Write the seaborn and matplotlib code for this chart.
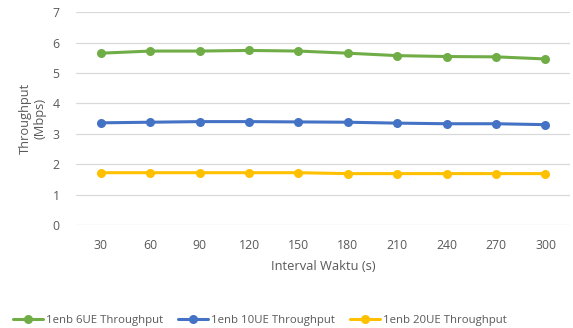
import matplotlib
matplotlib.use("Agg")
import matplotlib.pyplot as plt
import seaborn as sns
import pandas as pd

# data
intervals = ["30", "60", "90", "120", "150", "180", "210", "240", "270", "300"]
ue6 = [5.65, 5.72, 5.72, 5.74, 5.72, 5.65, 5.57, 5.54, 5.53, 5.46]
ue10 = [3.36, 3.38, 3.40, 3.40, 3.39, 3.38, 3.35, 3.33, 3.33, 3.30]
ue20 = [1.72, 1.72, 1.72, 1.72, 1.72, 1.69, 1.69, 1.69, 1.69, 1.69]
series = ["1enb 6UE Throughput", "1enb 10UE Throughput", "1enb 20UE Throughput"]
colors = ["#70ad47", "#4472c4", "#ffc000"]

df = pd.DataFrame({
    "Interval": intervals * 3,
    "Throughput": ue6 + ue10 + ue20,
    "Series": [s for s in series for _ in intervals],
})

sns.set_style("white")
plt.rcParams["font.family"] = ["Open Sans", "DejaVu Sans"]
grey = "#595959"

fig = plt.figure(figsize=(5.73, 3.28), dpi=100)
ax = fig.add_axes([0.133, 0.314, 0.862, 0.649])

sns.lineplot(data=df, x="Interval", y="Throughput", hue="Series",
             palette=colors, marker="o", markersize=6.5, markeredgewidth=0,
             linewidth=2.2, sort=False, ax=ax)

ax.set_ylim(0, 7)
ax.set_xlim(-0.5, len(intervals) - 0.5)
ax.set_yticks(range(0, 8))
ax.grid(axis="y", color="#d9d9d9", linewidth=0.9)
ax.set_axisbelow(True)
for s in ax.spines.values():
    s.set_visible(False)
ax.tick_params(axis="both", length=0, colors=grey, labelsize=8.8, pad=10)
ax.tick_params(axis="y", pad=12)
ax.set_xlabel("Interval Waktu (s)", color=grey, fontsize=9.3, labelpad=6)
ax.set_ylabel("Throughput\n(Mbps)", color=grey, fontsize=9.3, labelpad=4)

handles, labels = ax.get_legend_handles_labels()
ax.legend(handles, labels, loc="center", bbox_to_anchor=(0.372, -0.45),
          ncol=3, frameon=False, fontsize=8.2, labelcolor=grey,
          handlelength=2.6, handletextpad=0.3, columnspacing=1.3)

fig.savefig("out.png", dpi=100)
